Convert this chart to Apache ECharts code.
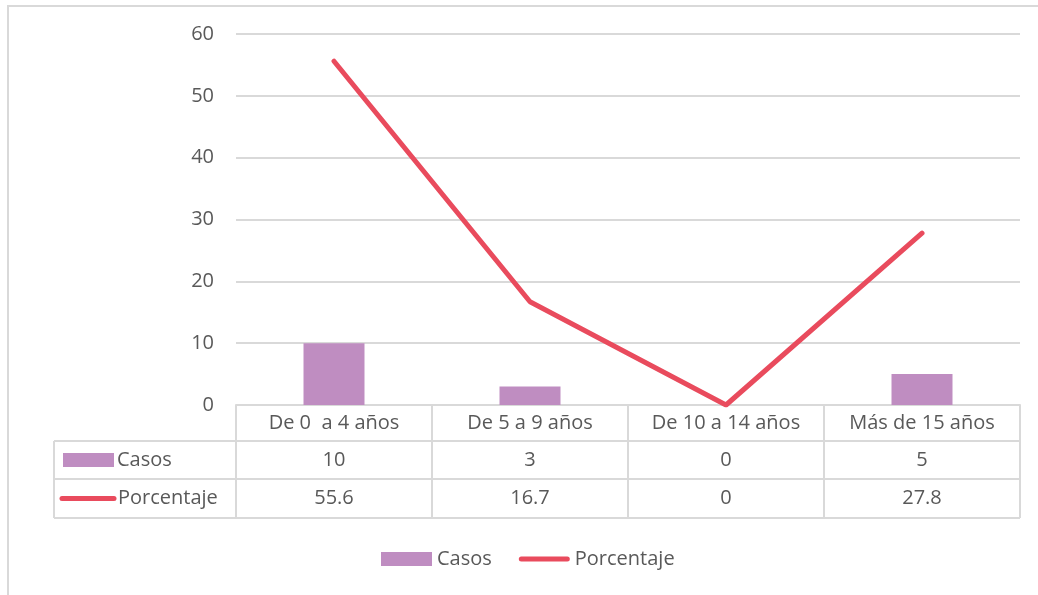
<!DOCTYPE html>
<html>
<head>
<meta charset="utf-8">
<script src="https://cdn.jsdelivr.net/npm/echarts@6/dist/echarts.min.js"></script>
<style>
  html, body { margin: 0; padding: 0; background: #fff; }
  #chart { width: 1038px; height: 595px; }
</style>
</head>
<body>
<div id="chart"></div>
<script>
var categories = ['De 0  a 4 años', 'De 5 a 9 años', 'De 10 a 14 años', 'Más de 15 años']
var casos = [10, 3, 0, 5]
var porcentaje = [55.6, 16.7, 0, 27.8]
var casosLabels = ['10', '3', '0', '5']
var porcentajeLabels = ['55.6', '16.7', '0', '27.8']

var FONT = 'Open Sans'
var FS = 20
var TXT = '#595959'
var LINE = '#d9d9d9'
var PURPLE = '#bf8dc1'
var RED = '#e94b5d'

var echart = echarts.init(document.getElementById('chart'))

option = {
    animation: false,
    textStyle: { fontFamily: FONT },
    grid: { left: 236, right: 18, top: 34, bottom: 190 },
    legend: {
        bottom: 21,
        left: 376,
        itemWidth: 51,
        itemHeight: 14,
        itemGap: 27,
        textStyle: { color: TXT, fontSize: FS, fontFamily: FONT },
        data: [
            { name: 'Casos', icon: 'rect' },
            { name: 'Porcentaje', icon: 'path://M2.5,0 H48.5 A2.5,2.5 0 0 1 48.5,5 H2.5 A2.5,2.5 0 0 1 2.5,0 Z', itemStyle: { color: RED } }
        ]
    },
    xAxis: {
        type: 'category',
        data: categories,
        axisLine: { lineStyle: { color: LINE, width: 2 } },
        axisTick: { show: false },
        axisLabel: { show: false }
    },
    yAxis: {
        type: 'value',
        min: 0,
        max: 60,
        interval: 10,
        axisLine: { show: false },
        axisTick: { show: false },
        axisLabel: { color: TXT, fontSize: FS, margin: 22, fontFamily: FONT },
        splitLine: { lineStyle: { color: LINE, width: 2 } }
    },
    series: [
        {
            name: 'Casos',
            type: 'bar',
            data: casos,
            barWidth: 61,
            itemStyle: { color: PURPLE }
        },
        {
            name: 'Porcentaje',
            type: 'line',
            data: porcentaje,
            symbol: 'none',
            lineStyle: { color: RED, width: 5, cap: 'round', join: 'round' },
            itemStyle: { color: RED }
        }
    ]
}

echart.setOption(option)

// data table under the plot, positioned from the axis scale
var cx = categories.map(function (c, i) {
    return echart.convertToPixel({ xAxisIndex: 0 }, i)
})
var bw = cx[1] - cx[0]
var x0 = cx[0] - bw / 2
var x1 = cx[cx.length - 1] + bw / 2
var y0 = echart.convertToPixel({ yAxisIndex: 0 }, 0)
var rows = [y0, y0 + 36, y0 + 74, y0 + 113]
var leftX = 54
var g = []

function hline(xa, xb, y) {
    g.push({ type: 'line', shape: { x1: xa, y1: y, x2: xb, y2: y }, style: { stroke: LINE, lineWidth: 2 } })
}
function vline(x, ya, yb) {
    g.push({ type: 'line', shape: { x1: x, y1: ya, x2: x, y2: yb }, style: { stroke: LINE, lineWidth: 2 } })
}
function txt(x, y, s, align) {
    g.push({ type: 'text', x: x, y: y, style: { text: s, fill: TXT, font: FS + 'px "' + FONT + '"', align: align || 'center', verticalAlign: 'middle' } })
}

hline(leftX, x1, rows[1])
hline(leftX, x1, rows[2])
hline(leftX, x1, rows[3])
vline(leftX, rows[1], rows[3])
vline(x0, rows[0], rows[3])
cx.forEach(function (c) { vline(c + bw / 2, rows[0], rows[3]) })

var rowTexts = [categories, casosLabels, porcentajeLabels]
rowTexts.forEach(function (arr, r) {
    var ym = (rows[r] + rows[r + 1]) / 2
    arr.forEach(function (s, i) { txt(cx[i], ym, s) })
})

// row keys
var ym1 = (rows[1] + rows[2]) / 2
var ym2 = (rows[2] + rows[3]) / 2
g.push({ type: 'rect', shape: { x: 63, y: ym1 - 7, width: 51, height: 14 }, style: { fill: PURPLE } })
txt(117, ym1, 'Casos', 'left')
g.push({ type: 'line', shape: { x1: 62, y1: ym2, x2: 114, y2: ym2 }, style: { stroke: RED, lineWidth: 5, lineCap: 'round' } })
txt(118, ym2, 'Porcentaje', 'left')

// outer chart border
g.push({ type: 'rect', shape: { x: 8, y: 6, width: 1060, height: 620 }, style: { fill: null, stroke: LINE, lineWidth: 2 } })

echart.setOption({ graphic: g })
</script>
</body>
</html>
